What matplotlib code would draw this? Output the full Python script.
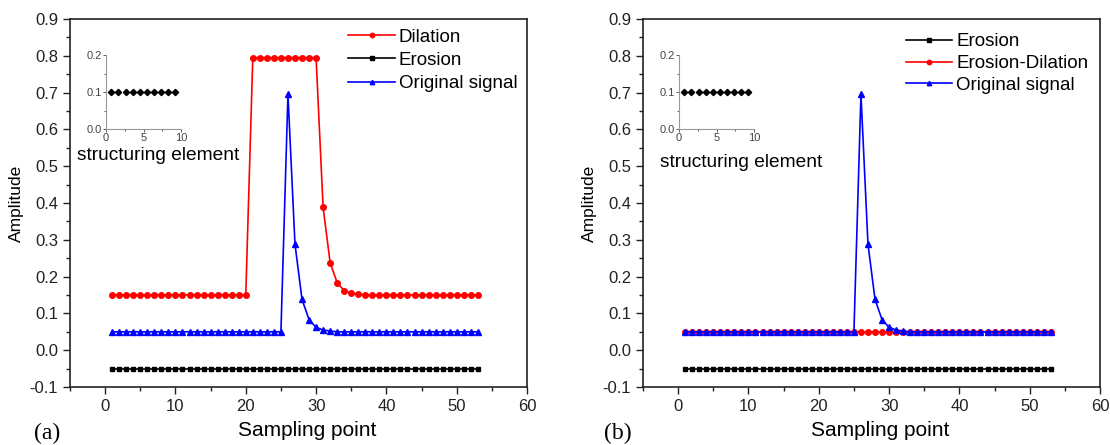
import numpy as np
import matplotlib
matplotlib.use("Agg")
import matplotlib.pyplot as plt
from matplotlib.ticker import MultipleLocator, FormatStrFormatter

# data
x = list(range(1, 54))
original = ([0.05] * 25 + [0.695, 0.288, 0.138, 0.083, 0.062, 0.055, 0.052]
            + [0.05] * 21)
dilation = ([0.15] * 20 + [0.795] * 10
            + [0.388, 0.238, 0.183, 0.162, 0.155, 0.152] + [0.15] * 17)
erosion = [-0.05] * 53
erosion_dilation = [0.05] * 53

se_x = [0.7, 1.65, 2.6, 3.55, 4.5, 5.45, 6.4, 7.35, 8.3, 9.25]
se_y = [0.1] * 10

plt.rcParams['font.family'] = ['Liberation Sans', 'DejaVu Sans']
fig = plt.figure(figsize=(11.1, 4.45), dpi=100)

W, H = 1110, 445
def fig_rect(l, t, r, b):
    return [l / W, 1 - b / H, (r - l) / W, (b - t) / H]


def style_main(ax):
    ax.set_xlim(-5, 60)
    ax.set_ylim(-0.1, 0.9)
    ax.xaxis.set_major_locator(MultipleLocator(10))
    ax.xaxis.set_minor_locator(MultipleLocator(5))
    ax.yaxis.set_major_locator(MultipleLocator(0.1))
    ax.yaxis.set_minor_locator(MultipleLocator(0.05))
    ax.yaxis.set_major_formatter(FormatStrFormatter('%.1f'))
    ax.tick_params(which='major', direction='out', length=5, width=1,
                   labelsize=12, colors='#222222', top=False, right=False)
    ax.tick_params(which='minor', direction='out', length=3, width=1,
                   top=False, right=False, colors='#222222')
    for s in ax.spines.values():
        s.set_linewidth(1.2)
        s.set_color('#222222')
    ax.set_xlabel("Sampling point", fontsize=15)
    ax.xaxis.set_label_coords(0.518, -0.092)
    ax.set_ylabel("Amplitude", fontsize=12.5, labelpad=4)


def add_inset(ax_left):
    ins = fig.add_axes(fig_rect(ax_left + 36, 55, ax_left + 111, 129))
    ins.plot(se_x, se_y, 'D', color='black', markersize=3.2)
    ins.set_xlim(0, 10)
    ins.set_ylim(0, 0.2)
    ins.set_xticks([0, 5, 10])
    ins.set_yticks([0.0, 0.1, 0.2])
    ins.yaxis.set_major_formatter(FormatStrFormatter('%.1f'))
    ins.xaxis.set_minor_locator(MultipleLocator(2.5))
    ins.yaxis.set_minor_locator(MultipleLocator(0.05))
    ins.tick_params(which='both', direction='out', length=2, width=0.6,
                    labelsize=8, colors='#444444', pad=1)
    ins.tick_params(which='minor', length=1.2)
    ins.spines['top'].set_visible(False)
    ins.spines['right'].set_visible(False)
    for s in ['left', 'bottom']:
        ins.spines[s].set_color('#999999')
        ins.spines[s].set_linewidth(0.8)
    ins.patch.set_alpha(0)
    return ins


lw = 1.2
leg_kw = dict(loc='upper left', frameon=False, fontsize=13.5, borderpad=0,
              handlelength=2.5, handletextpad=0.2, markerscale=0.8)

# (a)
ax1 = fig.add_axes(fig_rect(70, 19, 527, 387))
style_main(ax1)
ax1.plot(x, dilation, '-o', color='red', lw=lw, ms=4, label='Dilation')
ax1.plot(x, erosion, '-s', color='black', lw=lw, ms=3, label='Erosion')
ax1.plot(x, original, '-^', color='blue', lw=lw, ms=4, label='Original signal')
ax1.legend(bbox_to_anchor=(0.588, 1.0), labelspacing=0.33, **leg_kw)
ax1.text(0.016, 0.63, "structuring element", transform=ax1.transAxes,
         fontsize=13.8, va='center', ha='left')
add_inset(70)
fig.text(34 / W, 1 - 433 / H, "(a)", fontsize=17, va='center', ha='left',
         family=['Liberation Serif'])

# (b)
ax2 = fig.add_axes(fig_rect(643, 19, 1100, 387))
style_main(ax2)
ax2.plot(x, erosion, '-s', color='black', lw=lw, ms=3, label='Erosion')
ax2.plot(x, erosion_dilation, '-o', color='red', lw=lw, ms=4,
         label='Erosion-Dilation')
ax2.plot(x, original, '-^', color='blue', lw=lw, ms=4, label='Original signal')
ax2.legend(bbox_to_anchor=(0.554, 0.987), labelspacing=0.25, **leg_kw)
ax2.text(0.037, 0.61, "structuring element", transform=ax2.transAxes,
         fontsize=13.8, va='center', ha='left')
add_inset(643)
fig.text(604 / W, 1 - 433 / H, "(b)", fontsize=17, va='center', ha='left',
         family=['Liberation Serif'])

fig.savefig("out.png", dpi=100)
